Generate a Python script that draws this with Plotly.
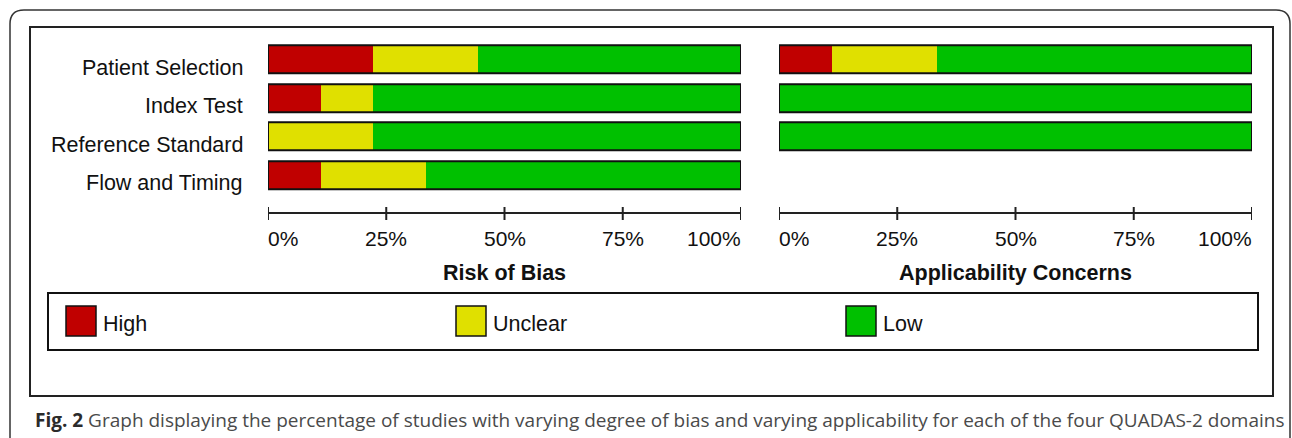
import plotly.graph_objects as go

W, H = 1292, 438

# ---------------- data ----------------
domains = ["Patient Selection", "Index Test", "Reference Standard", "Flow and Timing"]
levels = ["High", "Unclear", "Low"]
level_colors = ["#C00000", "#E0E000", "#00C000"]

rob_high = [22.2, 11.1, 0.0, 11.1]
rob_unclear = [22.2, 11.1, 22.2, 22.2]
rob_low = [55.6, 77.8, 77.8, 66.7]

app_high = [11.1, 0.0, 0.0, None]
app_unclear = [22.2, 0.0, 0.0, None]
app_low = [66.7, 100.0, 100.0, None]

tick_values = [0, 25, 50, 75, 100]
tick_labels = ["0%", "25%", "50%", "75%", "100%"]
panel_titles = ["Risk of Bias", "Applicability Concerns"]
caption_bold = "Fig. 2"
caption_text = ("Graph displaying the percentage of studies with varying degree of bias "
                "and varying applicability for each of the four QUADAS-2 domains")


def px(x):
    return x / W


def py(y):
    return 1 - y / H


FONT = "Liberation Sans, Arial, sans-serif"
FS = 21.5
BAR_W = 0.72

fig = go.Figure()
rows = list(range(len(domains)))


def add_panel(series, xa, ya):
    bases = [0.0] * len(domains)
    for name, vals, col in zip(levels, series, level_colors):
        xs, bs = [], []
        for i, v in enumerate(vals):
            if v is None:
                xs.append(None)
                bs.append(None)
            else:
                xs.append(v)
                bs.append(bases[i])
                bases[i] += v
        fig.add_trace(go.Bar(
            y=rows, x=xs, base=bs, orientation="h", name=name,
            marker=dict(color=col, line=dict(width=0)),
            width=BAR_W, xaxis=xa, yaxis=ya, showlegend=False, hoverinfo="skip"))
    totals = [None if all(s[i] is None for s in series) else bases[i] for i in rows]
    fig.add_trace(go.Bar(
        y=rows, x=totals, base=[0] * len(rows), orientation="h",
        marker=dict(color="rgba(0,0,0,0)", line=dict(color="#111111", width=2)),
        width=BAR_W, xaxis=xa, yaxis=ya, showlegend=False, hoverinfo="skip"))


add_panel([rob_high, rob_unclear, rob_low], "x", "y")
add_panel([app_high, app_unclear, app_low], "x2", "y2")

y_top, y_bot = 40.25, 194.25
axis_y = 213
xdom1 = [px(268), px(741)]
xdom2 = [px(779), px(1252)]

common_x = dict(range=[0, 100], showgrid=False, zeroline=False, showline=True,
                linecolor="#222222", linewidth=2, ticks="", showticklabels=False,
                anchor="free", position=py(axis_y), fixedrange=True)
common_y = dict(domain=[py(y_bot), py(y_top)], range=[len(domains) - 0.5, -0.5],
                showgrid=False, zeroline=False, showline=False, showticklabels=False)
fig.update_layout(
    xaxis=dict(domain=xdom1, **common_x),
    xaxis2=dict(domain=xdom2, **common_x),
    yaxis=dict(anchor="x", **common_y),
    yaxis2=dict(anchor="x2", **common_y),
)

shapes = []
annotations = []

# domain labels (set slightly below bar centres, as in the original)
for i, d in zip(rows, domains):
    annotations.append(dict(x=px(245), y=i, xref="paper", yref="y", text=d,
                            showarrow=False, xanchor="right", yanchor="middle", yshift=-8,
                            font=dict(family=FONT, size=FS, color="#111111")))

# outer rounded frame
r = 14
x0, y0, x1, y1 = 10, 10, 1290, 470
path = (f"M {px(x0)},{py(y0 + r)} Q {px(x0)},{py(y0)} {px(x0 + r)},{py(y0)} "
        f"L {px(x1 - r)},{py(y0)} Q {px(x1)},{py(y0)} {px(x1)},{py(y0 + r)} "
        f"L {px(x1)},{py(y1)} L {px(x0)},{py(y1)} Z")
shapes.append(dict(type="path", xref="paper", yref="paper", path=path,
                   line=dict(color="#333333", width=1.5)))
# inner frame
shapes.append(dict(type="rect", xref="paper", yref="paper", x0=px(30), x1=px(1273),
                   y0=py(396), y1=py(27), line=dict(color="#222222", width=2)))
# legend frame
shapes.append(dict(type="rect", xref="paper", yref="paper", x0=px(48), x1=px(1258),
                   y0=py(350), y1=py(293), line=dict(color="#111111", width=2)))

# ticks (crossing the axis line) and tick labels
for xa, title, dom in (("x", panel_titles[0], xdom1), ("x2", panel_titles[1], xdom2)):
    for v, lab in zip(tick_values, tick_labels):
        shapes.append(dict(type="line", xref=xa, yref="paper", x0=v, x1=v,
                           y0=py(axis_y - 6), y1=py(axis_y + 7),
                           line=dict(color="#222222", width=2)))
        anchor = "left" if v == tick_values[0] else ("right" if v == tick_values[-1] else "center")
        annotations.append(dict(x=v, y=py(238), xref=xa, yref="paper", text=lab,
                                showarrow=False, xanchor=anchor, yanchor="middle",
                                xshift=-2 if anchor == "left" else (2 if anchor == "right" else 0),
                                font=dict(family=FONT, size=21, color="#111111")))
    annotations.append(dict(x=(dom[0] + dom[1]) / 2, y=py(273), xref="paper", yref="paper",
                            text=f"<b>{title}</b>", showarrow=False, xanchor="center",
                            yanchor="middle", font=dict(family=FONT, size=FS, color="#111111")))

# legend swatches
legend_x = [66, 456, 846]
for lx, name, col in zip(legend_x, levels, level_colors):
    shapes.append(dict(type="rect", xref="paper", yref="paper", x0=px(lx), x1=px(lx + 30),
                       y0=py(336), y1=py(306), fillcolor=col,
                       line=dict(color="#111111", width=1.5)))
    annotations.append(dict(x=px(lx + 35), y=py(324), xref="paper", yref="paper",
                            text=name, showarrow=False, xanchor="left", yanchor="middle",
                            font=dict(family=FONT, size=FS, color="#111111")))

# caption
annotations.append(dict(x=px(33), y=py(420), xref="paper", yref="paper",
                        text=f"<b><span style='color:#2b2b2b'>{caption_bold}</span></b> {caption_text}",
                        showarrow=False, xanchor="left", yanchor="middle",
                        font=dict(family="Open Sans, sans-serif", size=19, color="#4a4a4a")))

fig.update_layout(
    width=W, height=H, margin=dict(l=0, r=0, t=0, b=0),
    paper_bgcolor="white", plot_bgcolor="white",
    barmode="overlay", bargap=0,
    shapes=shapes, annotations=annotations, showlegend=False,
)

fig.write_html("out.html", config={"displayModeBar": False},
               post_script="document.body.style.margin='0';document.body.style.overflow='hidden';")
